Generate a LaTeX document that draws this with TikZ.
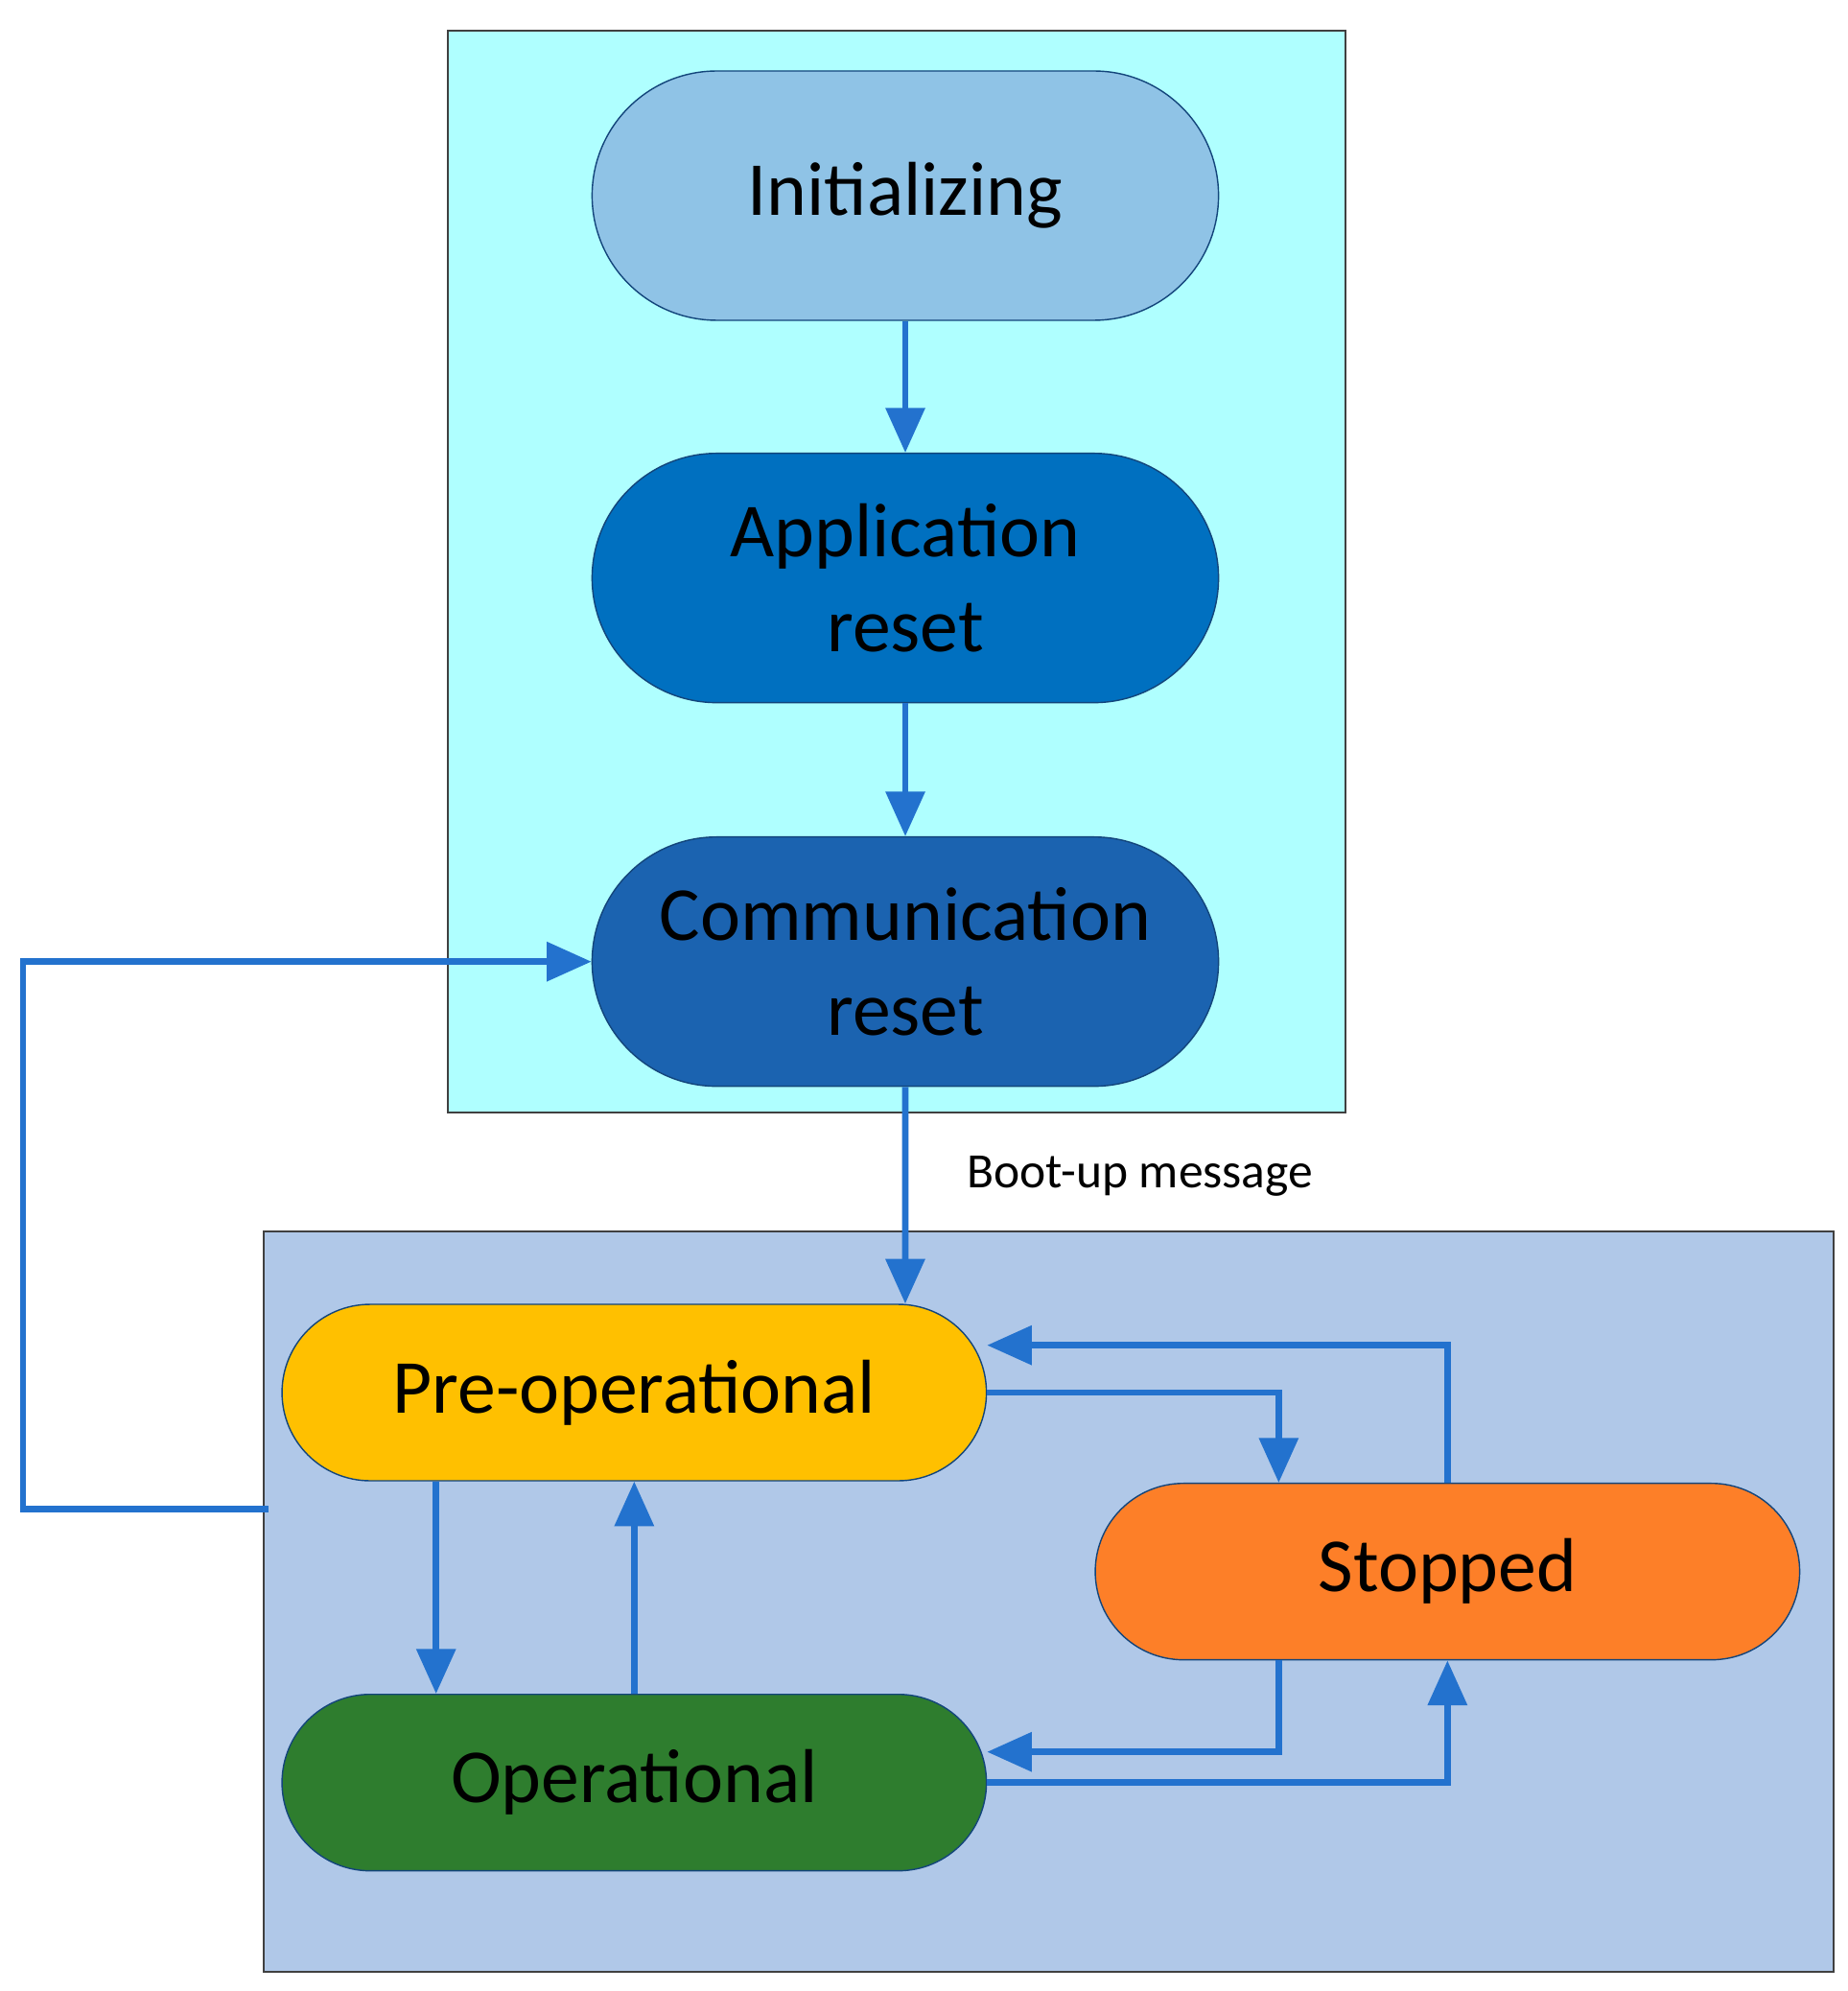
\documentclass[tikz,border=0pt]{standalone}
\usepackage{fontspec}
\setmainfont{Carlito}
\usetikzlibrary{shapes.misc,arrows.meta}
\definecolor{topbg}{HTML}{AFFFFF}
\definecolor{botbg}{HTML}{B0C8E8}
\definecolor{cinit}{HTML}{8FC3E6}
\definecolor{capp}{HTML}{0070C0}
\definecolor{ccomm}{HTML}{1B63B0}
\definecolor{cpre}{HTML}{FFC000}
\definecolor{cstop}{HTML}{FD7F28}
\definecolor{coper}{HTML}{2E7D2E}
\definecolor{carrow}{HTML}{2372CE}
\tikzset{
 st/.style={rounded rectangle, draw=ccomm!70!black, line width=0.6pt, inner sep=0pt, align=center, font=\fontsize{34}{42}\selectfont},
 big/.style={st, minimum width=9.8cm, minimum height=3.9cm},
 small/.style={st, minimum width=11.02cm, minimum height=2.76cm},
 ar/.style={draw=carrow, line width=2.8pt, -{Triangle[length=0.7cm,width=0.6cm]}},
 ln/.style={draw=carrow, line width=2.8pt},
 box/.style={draw=black!75, line width=0.8pt}
}
\begin{document}
\begin{tikzpicture}[x=0.02cm,y=-0.02cm]
\useasboundingbox (0,0) rectangle (1445,1557);
\fill[white] (0,0) rectangle (1445,1557);
\draw[box, fill=topbg] (350,24) rectangle (1052,870);
\draw[box, fill=botbg] (206,963) rectangle (1434,1542);
\node[big, fill=cinit] (init) at (708,153) {Initializing};
\node[big, fill=capp] (app) at (708,452) {Application\\reset};
\node[big, fill=ccomm] (comm) at (708,752) {Communication\\reset};
\node[small, fill=cpre] (pre) at (496,1089) {Pre-operational};
\node[small, fill=cstop] (stop) at (1132,1229) {Stopped};
\node[small, fill=coper] (oper) at (496,1394) {Operational};
\node[anchor=west, font=\fontsize{22}{26}\selectfont] (boot) at (750,920) {Boot-up message};
\coordinate (L) at (210,1180);
\draw[ar] (init.south) -- (app.north);
\draw[ar] (app.south) -- (comm.north);
\draw[ar] (comm.south) -- ([xshift=4.24cm]pre.north);
\draw[ar] (L) -- (18,1180) |- (comm.west);
\draw[ar] (pre.east) -| ([xshift=-2.64cm]stop.north);
\draw[ar] (stop.north) |- ([yshift=0.74cm]pre.east);
\draw[ar] ([xshift=-3.1cm]pre.south) -- ([xshift=-3.1cm]pre.south |- oper.north);
\draw[ar] (oper.north) -- (pre.south);
\draw[ar] ([xshift=-2.64cm]stop.south) |- ([yshift=0.48cm]oper.east);
\draw[ar] (oper.east) -| (stop.south);
\end{tikzpicture}
\end{document}
